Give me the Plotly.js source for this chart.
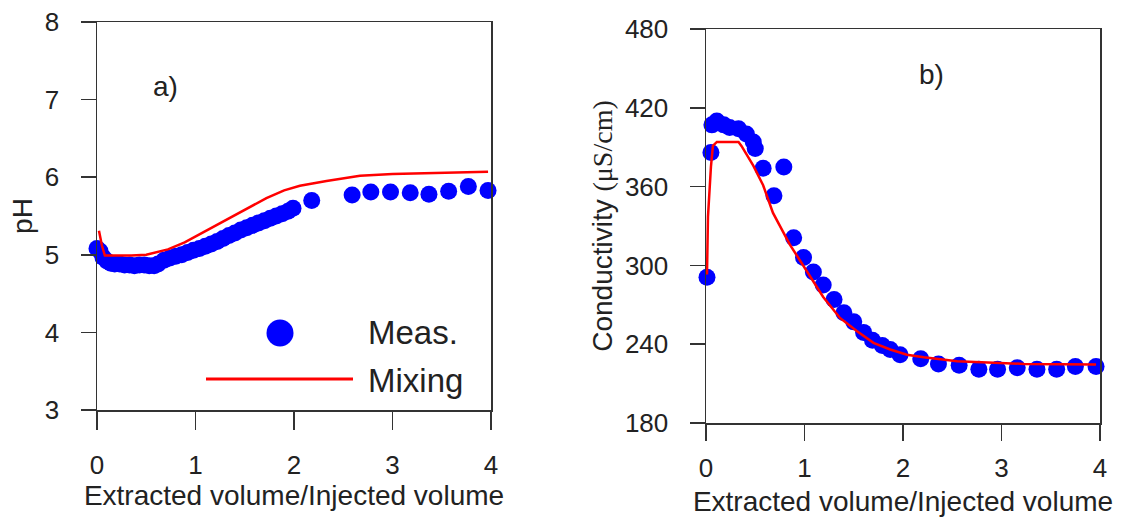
<!DOCTYPE html>
<html>
<head>
<meta charset="utf-8">
<script src="https://cdn.plot.ly/plotly-3.0.1.min.js"></script>
<style>html,body{margin:0;padding:0;background:#fff;} #chart{width:1133px;height:525px;}</style>
</head>
<body>
<div id="chart"></div>
<script>
// ---- Panel a) pH ----
const phMeasX = [0.00, 0.03, 0.06, 0.10, 0.14, 0.18, 0.23, 0.28, 0.33, 0.38, 0.43, 0.48, 0.53, 0.58, 0.62, 0.68, 0.74, 0.80, 0.86, 0.92, 0.98, 1.04, 1.10, 1.16, 1.22, 1.28, 1.34, 1.40, 1.46, 1.52, 1.58, 1.64, 1.70, 1.76, 1.82, 1.88, 1.94, 1.99, 2.18, 2.59, 2.78, 2.98, 3.18, 3.37, 3.57, 3.77, 3.97];
const phMeasY = [5.08, 5.05, 4.97, 4.92, 4.89, 4.88, 4.88, 4.87, 4.87, 4.86, 4.87, 4.87, 4.86, 4.86, 4.88, 4.93, 4.96, 4.98, 5.00, 5.03, 5.06, 5.08, 5.11, 5.14, 5.17, 5.21, 5.25, 5.28, 5.32, 5.35, 5.38, 5.41, 5.44, 5.47, 5.50, 5.53, 5.56, 5.60, 5.70, 5.77, 5.81, 5.81, 5.80, 5.78, 5.82, 5.88, 5.83];
const phMixX = [0.02, 0.05, 0.08, 0.20, 0.35, 0.50, 0.60, 0.72, 0.89, 1.05, 1.18, 1.38, 1.55, 1.72, 1.90, 2.06, 2.33, 2.67, 3.00, 3.36, 3.97];
const phMixY = [5.31, 5.12, 4.99, 4.99, 4.99, 5.00, 5.03, 5.07, 5.16, 5.27, 5.36, 5.50, 5.62, 5.73, 5.83, 5.89, 5.95, 6.02, 6.04, 6.05, 6.07];

// ---- Panel b) Conductivity ----
const ecMeasX = [0.01, 0.05, 0.06, 0.11, 0.18, 0.24, 0.33, 0.41, 0.48, 0.50, 0.58, 0.69, 0.79, 0.89, 0.99, 1.09, 1.19, 1.30, 1.40, 1.50, 1.60, 1.69, 1.79, 1.87, 1.97, 2.18, 2.36, 2.57, 2.77, 2.96, 3.16, 3.36, 3.56, 3.75, 3.96];
const ecMeasY = [291, 386, 407, 410, 407, 405, 404, 400, 394, 389, 374, 353, 375, 321, 306, 295, 285, 274, 264, 257, 249, 243, 239, 236, 232, 229, 225, 224, 221, 221, 222, 221, 221, 223, 223];
const ecMixX = [0.01, 0.02, 0.05, 0.07, 0.11, 0.33, 0.36, 0.48, 0.58, 0.68, 0.85, 1.02, 1.19, 1.36, 1.53, 1.70, 1.87, 2.04, 2.21, 2.55, 2.89, 3.23, 3.96];
const ecMixY = [293, 337, 375, 391, 394, 394, 391, 376, 361, 340, 316, 296, 276, 260, 250, 241, 236, 232, 230, 227, 226, 225, 224.5];

const xTicks = [0, 1, 2, 3, 4];
const phTicks = [3, 4, 5, 6, 7, 8];
const ecTicks = [180, 240, 300, 360, 420, 480];
const xTitle = 'Extracted volume/Injected volume';
const legendLabels = ['Meas.', 'Mixing'];

const FONT = 'Liberation Sans, Arial, sans-serif';
const BLUE = '#0000ff', RED = '#ff0000', AX = '#333333';
const W = 1133, H = 525;

const traces = [
  {x: phMeasX, y: phMeasY, xaxis: 'x', yaxis: 'y', mode: 'markers', type: 'scatter',
   marker: {color: BLUE, size: 17}, cliponaxis: false, showlegend: false, name: legendLabels[0]},
  {x: phMixX, y: phMixY, xaxis: 'x', yaxis: 'y', mode: 'lines', type: 'scatter',
   line: {color: RED, width: 2.5}, cliponaxis: false, showlegend: false, name: legendLabels[1]},
  {x: ecMeasX, y: ecMeasY, xaxis: 'x2', yaxis: 'y2', mode: 'markers', type: 'scatter',
   marker: {color: BLUE, size: 17}, cliponaxis: false, showlegend: false, name: legendLabels[0]},
  {x: ecMixX, y: ecMixY, xaxis: 'x2', yaxis: 'y2', mode: 'lines', type: 'scatter',
   line: {color: RED, width: 2.5}, cliponaxis: false, showlegend: false, name: legendLabels[1]}
];

function xa(domain, anchor, ticklen, labelStandoff, titleStandoff) {
  return {
    domain: domain, anchor: anchor, range: [0, 4], tickvals: xTicks, ticktext: xTicks.map(String),
    ticks: 'outside', ticklen: ticklen, tickwidth: 1.5, tickcolor: AX,
    showline: true, linewidth: 1.5, linecolor: AX, mirror: true,
    showgrid: false, zeroline: false, ticklabelstandoff: labelStandoff,
    tickfont: {family: FONT, size: 26, color: '#222'},
    title: {text: xTitle, font: {family: FONT, size: 28, color: '#222'}, standoff: titleStandoff}
  };
}
function ya(domain, anchor, range, tickvals, title, standoff) {
  return {
    domain: domain, anchor: anchor, range: range, tickvals: tickvals, ticktext: tickvals.map(String),
    ticks: 'outside', ticklen: 15, tickwidth: 1.5, tickcolor: AX,
    showline: true, linewidth: 1.5, linecolor: AX, mirror: true,
    showgrid: false, zeroline: false, ticklabelstandoff: 16,
    tickfont: {family: FONT, size: 26, color: '#222'},
    title: {text: title, font: {family: FONT, size: 28, color: '#222'}, standoff: standoff}
  };
}

const layout = {
  width: W, height: H,
  margin: {l: 0, r: 0, t: 0, b: 0},
  paper_bgcolor: '#fff', plot_bgcolor: '#fff',
  showlegend: false,
  font: {family: FONT, color: '#222'},
  xaxis: xa([97 / W, 491 / W], 'y', 18, 13, 4),
  yaxis: ya([1 - 410 / H, 1 - 22 / H], 'x', [3, 8], phTicks, 'pH', 4),
  xaxis2: xa([706 / W, 1100 / W], 'y2', 16, 5, 9),
  yaxis2: ya([1 - 423 / H, 1 - 29 / H], 'x2', [180, 480], ecTicks,
    'Conductivity <span style="font-family:Liberation Serif, Times New Roman, serif">(\u03bcS/cm)</span>', 4),
  annotations: [
    {xref: 'paper', yref: 'paper', x: 165 / W, y: 1 - 86 / H, text: 'a)', showarrow: false,
     font: {family: FONT, size: 28, color: '#222'}, xanchor: 'center', yanchor: 'middle'},
    {xref: 'paper', yref: 'paper', x: 931 / W, y: 1 - 75 / H, text: 'b)', showarrow: false,
     font: {family: FONT, size: 28, color: '#222'}, xanchor: 'center', yanchor: 'middle'},
    {xref: 'paper', yref: 'paper', x: 366 / W, y: 1 - 333 / H, text: legendLabels[0], showarrow: false,
     font: {family: FONT, size: 33, color: '#222'}, xanchor: 'left', yanchor: 'middle'},
    {xref: 'paper', yref: 'paper', x: 366 / W, y: 1 - 380 / H, text: legendLabels[1], showarrow: false,
     font: {family: FONT, size: 33, color: '#222'}, xanchor: 'left', yanchor: 'middle'}
  ],
  shapes: [
    {type: 'circle', xref: 'paper', yref: 'paper', x0: 266.5 / W, x1: 293.5 / W,
     y0: 1 - 346.5 / H, y1: 1 - 319.5 / H, fillcolor: BLUE, line: {width: 0}},
    {type: 'line', xref: 'paper', yref: 'paper', x0: 206 / W, x1: 353 / W,
     y0: 1 - 379 / H, y1: 1 - 379 / H, line: {color: RED, width: 3}}
  ]
};

Plotly.newPlot('chart', traces, layout, {staticPlot: true, displayModeBar: false});
</script>
</body>
</html>
